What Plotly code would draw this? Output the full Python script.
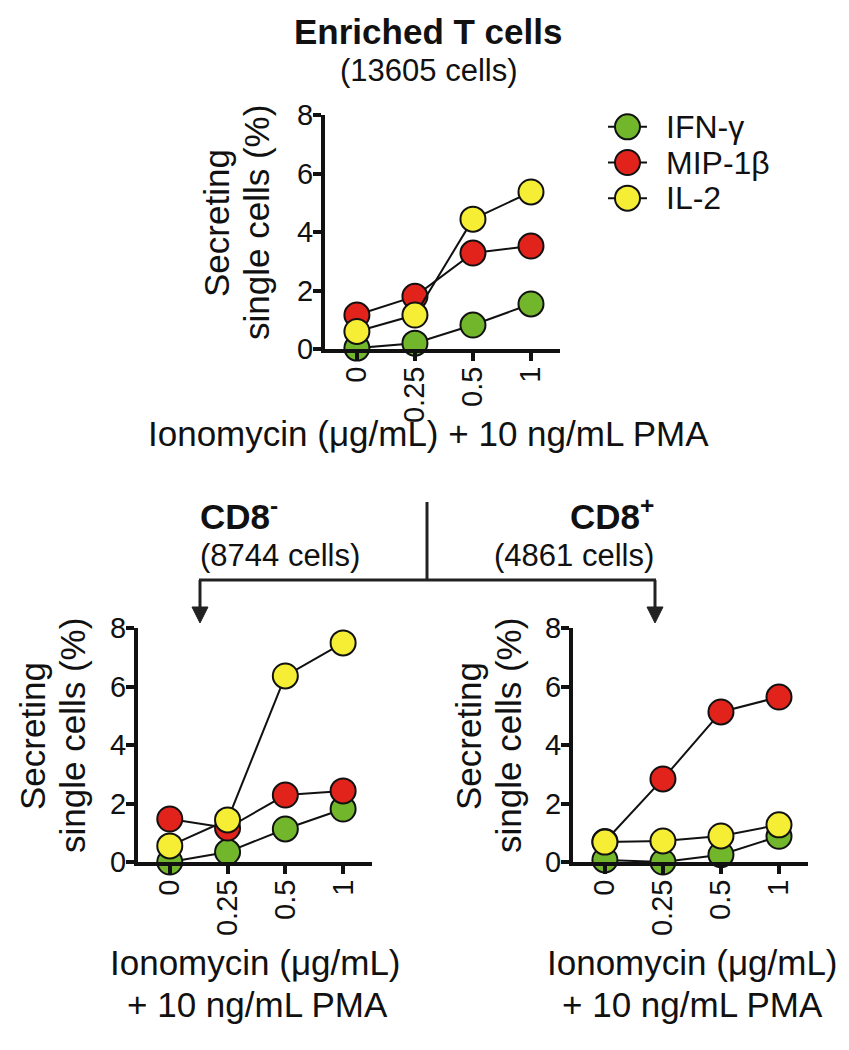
import plotly.graph_objects as go

W, H = 849, 1050
def px(x): return x / W
def py(y): return 1 - y / H

FONT = "Liberation Sans, Arial, Helvetica, sans-serif"

# ---------------- data ----------------
doses = ["0", "0.25", "0.5", "1"]
cytokines = ["IFN-γ", "MIP-1β", "IL-2"]
colors = ["#72b62c", "#e2231c", "#f5ee35"]

enriched_ifng = [0.03, 0.20, 0.82, 1.54]
enriched_mip1b = [1.16, 1.80, 3.28, 3.52]
enriched_il2 = [0.60, 1.16, 4.44, 5.37]

cd8neg_ifng = [0.00, 0.34, 1.13, 1.81]
cd8neg_mip1b = [1.47, 1.16, 2.29, 2.43]
cd8neg_il2 = [0.55, 1.44, 6.36, 7.49]

cd8pos_ifng = [0.07, 0.00, 0.25, 0.88]
cd8pos_mip1b = [0.70, 2.84, 5.13, 5.64]
cd8pos_il2 = [0.68, 0.72, 0.89, 1.27]

y_ticks = [0, 2, 4, 6, 8]

# ---------------- layout geometry (pixels) ----------------
panels = [
    dict(series=[enriched_ifng, enriched_mip1b, enriched_il2], ax="", box=(325, 560, 115, 349)),
    dict(series=[cd8neg_ifng, cd8neg_mip1b, cd8neg_il2], ax="2", box=(138, 372, 628, 862)),
    dict(series=[cd8pos_ifng, cd8pos_mip1b, cd8pos_il2], ax="3", box=(573, 808, 628, 862)),
]

fig = go.Figure()

TICKFONT = dict(family=FONT, size=29, color="#111111")
axis_common = dict(
    showline=True, linewidth=4, linecolor="#111111",
    ticks="outside", ticklen=8, tickwidth=4, tickcolor="#111111",
    showgrid=False, zeroline=False, fixedrange=True, automargin=False,
)

layout_axes = {}
for p in panels:
    a = p["ax"]
    x0, x1, y0, y1 = p["box"]
    for name, vals, col in zip(cytokines, p["series"], colors):
        fig.add_trace(go.Scatter(
            x=doses, y=vals, name=name, mode="lines+markers",
            xaxis="x" + a, yaxis="y" + a, cliponaxis=False, showlegend=False,
            line=dict(color="#111111", width=2),
            marker=dict(size=25, color=col, line=dict(color="#111111", width=2)),
        ))
    layout_axes["xaxis" + a] = dict(
        axis_common, type="category", domain=[px(x0), px(x1)],
        range=[-0.55, 3.5], tickangle=-90, anchor="y" + a,
        categoryorder="array", categoryarray=doses, tickfont=TICKFONT,
        ticklabelstandoff=-6,
    )
    layout_axes["yaxis" + a] = dict(
        axis_common, domain=[py(y1), py(y0)], range=[0, 8],
        tickvals=y_ticks, anchor="x" + a, tickfont=TICKFONT,
        ticklabelstandoff=-6,
    )

# ---------------- manual legend ----------------
for i, (name, col) in enumerate(zip(cytokines, colors)):
    fig.add_trace(go.Scatter(
        x=[-1, 1], y=[i, i], mode="lines", xaxis="x4", yaxis="y4",
        line=dict(color="#111111", width=2), showlegend=False, hoverinfo="skip",
    ))
    fig.add_trace(go.Scatter(
        x=[0], y=[i], mode="markers", xaxis="x4", yaxis="y4", cliponaxis=False,
        marker=dict(size=25, color=col, line=dict(color="#111111", width=2)),
        showlegend=False, hoverinfo="skip",
    ))
layout_axes["xaxis4"] = dict(domain=[px(608), px(647)], range=[-1, 1], visible=False, fixedrange=True)
layout_axes["yaxis4"] = dict(domain=[py(216), py(109)], range=[2.5, -0.5], visible=False,
                             fixedrange=True, anchor="x4")

ann = []
def text(x, y, s, size, bold=False, xanchor="center", angle=0, yanchor="middle"):
    ann.append(dict(
        x=px(x), y=py(y), xref="paper", yref="paper", text=("<b>%s</b>" % s) if bold else s,
        showarrow=False, xanchor=xanchor, yanchor=yanchor, textangle=angle,
        font=dict(family=FONT, size=size, color="#111111"),
    ))

legend_rows_px = [127, 163, 198]
for name, yy in zip(cytokines, legend_rows_px):
    text(664, yy, name, 32, xanchor="left")

# titles
text(428, 32, "Enriched T cells", 35, bold=True)
text(428, 71, "(13605 cells)", 31)
text(198, 514, "CD8<sup>-</sup>", 35, bold=True, xanchor="left")
text(198, 555, "(8744 cells)", 31, xanchor="left")
text(656, 514, "CD8<sup>+</sup>", 35, bold=True, xanchor="right")
text(656, 555, "(4861 cells)", 31, xanchor="right")

# y axis titles
for xa, xb, yc in [(217, 257, 223), (32, 72, 736), (468, 508, 736)]:
    text(xa, yc, "Secreting", 35, angle=-90)
    text(xb, yc, "single cells (%)", 35, angle=-90)

# x axis titles
text(428, 433, "Ionomycin (μg/mL) + 10 ng/mL PMA", 35)
text(256, 962, "Ionomycin (μg/mL)", 35)
text(257, 1004, "+ 10 ng/mL PMA", 35)
text(692, 962, "Ionomycin (μg/mL)", 35)
text(692, 1004, "+ 10 ng/mL PMA", 35)

# connector lines and arrows
LC = "#222222"
shapes = [
    dict(type="line", xref="paper", yref="paper", x0=px(427), x1=px(427), y0=py(502), y1=py(580),
         line=dict(color=LC, width=3)),
    dict(type="line", xref="paper", yref="paper", x0=px(199), x1=px(656), y0=py(580), y1=py(580),
         line=dict(color=LC, width=3)),
    dict(type="line", xref="paper", yref="paper", x0=px(200), x1=px(200), y0=py(580), y1=py(610),
         line=dict(color=LC, width=3)),
    dict(type="line", xref="paper", yref="paper", x0=px(655), x1=px(655), y0=py(580), y1=py(610),
         line=dict(color=LC, width=3)),
]
for xc in (200, 655):
    path = "M %f %f L %f %f L %f %f Z" % (px(xc - 8), py(607), px(xc + 8), py(607), px(xc), py(623))
    shapes.append(dict(type="path", xref="paper", yref="paper", path=path,
                       fillcolor=LC, line=dict(color=LC, width=1)))

fig.update_layout(
    width=W, height=H,
    margin=dict(l=0, r=0, t=0, b=0),
    paper_bgcolor="white", plot_bgcolor="white",
    showlegend=False,
    annotations=ann, shapes=shapes,
    **layout_axes,
)

fig.write_html(
    "out.html",
    config={"displayModeBar": False},
    post_script="document.body.style.margin='0';document.body.style.padding='0';"
                "document.body.style.overflow='hidden';",
)
